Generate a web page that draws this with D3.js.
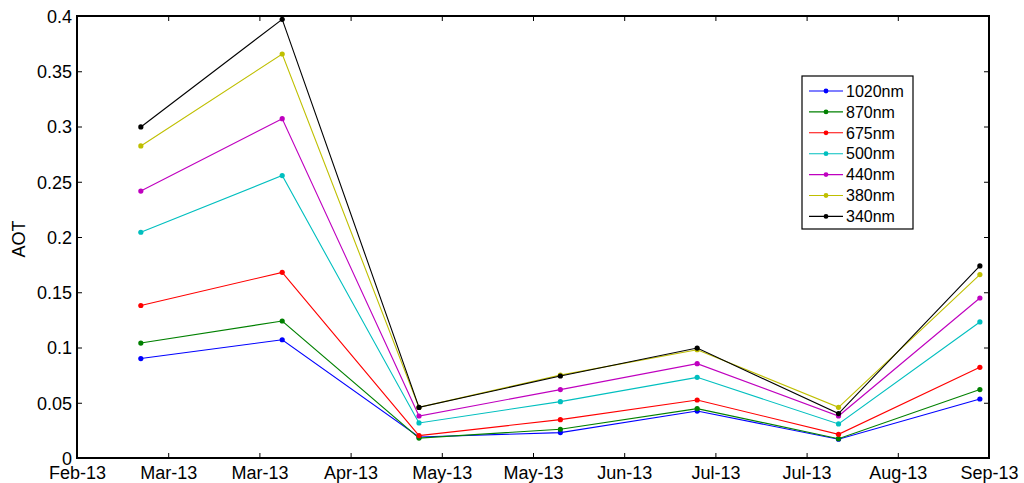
<!DOCTYPE html>
<html>
<head>
<meta charset="utf-8">
<script src="https://cdn.jsdelivr.net/npm/d3@7"></script>
<style>
html,body{margin:0;padding:0;background:#fff;}
svg text{font-family:"Liberation Sans",Arial,sans-serif;fill:#000;}
</style>
</head>
<body>
<svg id="chart" width="1024" height="483"></svg>
<script>
// ---- data ----
const dates = ["2013-03-01","2013-04-01","2013-05-01","2013-06-01","2013-07-01","2013-08-01","2013-09-01"];
const seriesNames = ["1020nm","870nm","675nm","500nm","440nm","380nm","340nm"];
const seriesColors = ["#0000ff","#008000","#ff0000","#00bfbf","#bf00bf","#bfbf00","#000000"];
const v1020 = [0.090,0.107,0.019,0.023,0.0425,0.017,0.0534];
const v870  = [0.104,0.124,0.018,0.026,0.0447,0.0175,0.0619];
const v675  = [0.138,0.168,0.0203,0.0347,0.0525,0.0214,0.0821];
const v500  = [0.2043,0.2556,0.0317,0.051,0.073,0.0308,0.1231];
const v440  = [0.2416,0.3071,0.038,0.0619,0.0854,0.038,0.1448];
const v380  = [0.2824,0.3656,0.0458,0.075,0.098,0.0459,0.166];
const v340  = [0.2996,0.397,0.0458,0.0742,0.0995,0.0402,0.1738];
const seriesValues = [v1020,v870,v675,v500,v440,v380,v340];
const xTickLabels = ["Feb-13","Mar-13","Mar-13","Apr-13","May-13","May-13","Jun-13","Jul-13","Jul-13","Aug-13","Sep-13"];
const yTicks = [0,0.05,0.1,0.15,0.2,0.25,0.3,0.35,0.4];
const xStart = "2013-02-15", xEnd = "2013-09-03";
const yLabel = "AOT";

// ---- layout ----
const L = 77, R = 989, T = 16, B = 458;
const svg = d3.select("#chart");
const parse = d3.utcParse("%Y-%m-%d");
const x = d3.scaleUtc().domain([parse(xStart), parse(xEnd)]).range([L, R]);
const y = d3.scaleLinear().domain([0, 0.4]).range([B, T]);
const xTickDates = xTickLabels.map((_, i) => d3.utcDay.offset(parse(xStart), i * 20));

const fmtY = d => d === 0 ? "0" : String(+d.toFixed(2));

// bottom axis
const xb = svg.append("g").attr("transform", `translate(0,${B})`)
  .call(d3.axisBottom(x).tickValues(xTickDates).tickSizeInner(-5).tickSizeOuter(0)
    .tickFormat((d, i) => xTickLabels[i]));
xb.selectAll("text").attr("font-size", 18).attr("dy", "1.05em").attr("y", 2);
// top axis ticks
svg.append("g").attr("transform", `translate(0,${T})`)
  .call(d3.axisTop(x).tickValues(xTickDates).tickSizeInner(-5).tickSizeOuter(0).tickFormat(""));
// left axis
const yl = svg.append("g").attr("transform", `translate(${L},0)`)
  .call(d3.axisLeft(y).tickValues(yTicks).tickSizeInner(-5).tickSizeOuter(0).tickFormat(fmtY));
yl.selectAll("text").attr("font-size", 18).attr("x", -5).attr("dy", "0.36em");
// right axis ticks
svg.append("g").attr("transform", `translate(${R},0)`)
  .call(d3.axisRight(y).tickValues(yTicks).tickSizeInner(-5).tickSizeOuter(0).tickFormat(""));
svg.selectAll(".domain").remove();
svg.selectAll(".tick line").attr("stroke", "#000").attr("stroke-width", 1);

// box
svg.append("rect").attr("x", L).attr("y", T).attr("width", R - L).attr("height", B - T)
  .attr("fill", "none").attr("stroke", "#000").attr("stroke-width", 2);

// y label
svg.append("text").attr("transform", `translate(25,${(T + B) / 2 + 2}) rotate(-90)`)
  .attr("text-anchor", "middle").attr("font-size", 18).text(yLabel);

// series
const line = d3.line().x((d, i) => x(parse(dates[i]))).y(d => y(d));
seriesValues.forEach((vals, s) => {
  const g = svg.append("g");
  g.append("path").attr("d", line(vals)).attr("fill", "none")
    .attr("stroke", seriesColors[s]).attr("stroke-width", 1.1);
  g.selectAll("circle").data(vals).join("circle")
    .attr("cx", (d, i) => x(parse(dates[i]))).attr("cy", d => y(d))
    .attr("r", 2.6).attr("fill", seriesColors[s]);
});

// legend
const lg = svg.append("g");
lg.append("rect").attr("x", 802).attr("y", 76).attr("width", 111).attr("height", 153)
  .attr("fill", "#fff").attr("stroke", "#000").attr("stroke-width", 1.2);
seriesNames.forEach((name, i) => {
  const cy = 91 + i * 20.9;
  lg.append("line").attr("x1", 809).attr("x2", 843).attr("y1", cy).attr("y2", cy)
    .attr("stroke", seriesColors[i]).attr("stroke-width", 1.1);
  lg.append("circle").attr("cx", 826).attr("cy", cy).attr("r", 2.4).attr("fill", seriesColors[i]);
  lg.append("text").attr("x", 846).attr("y", cy).attr("dy", "0.36em")
    .attr("font-size", 16).text(name);
});
</script>
</body>
</html>
